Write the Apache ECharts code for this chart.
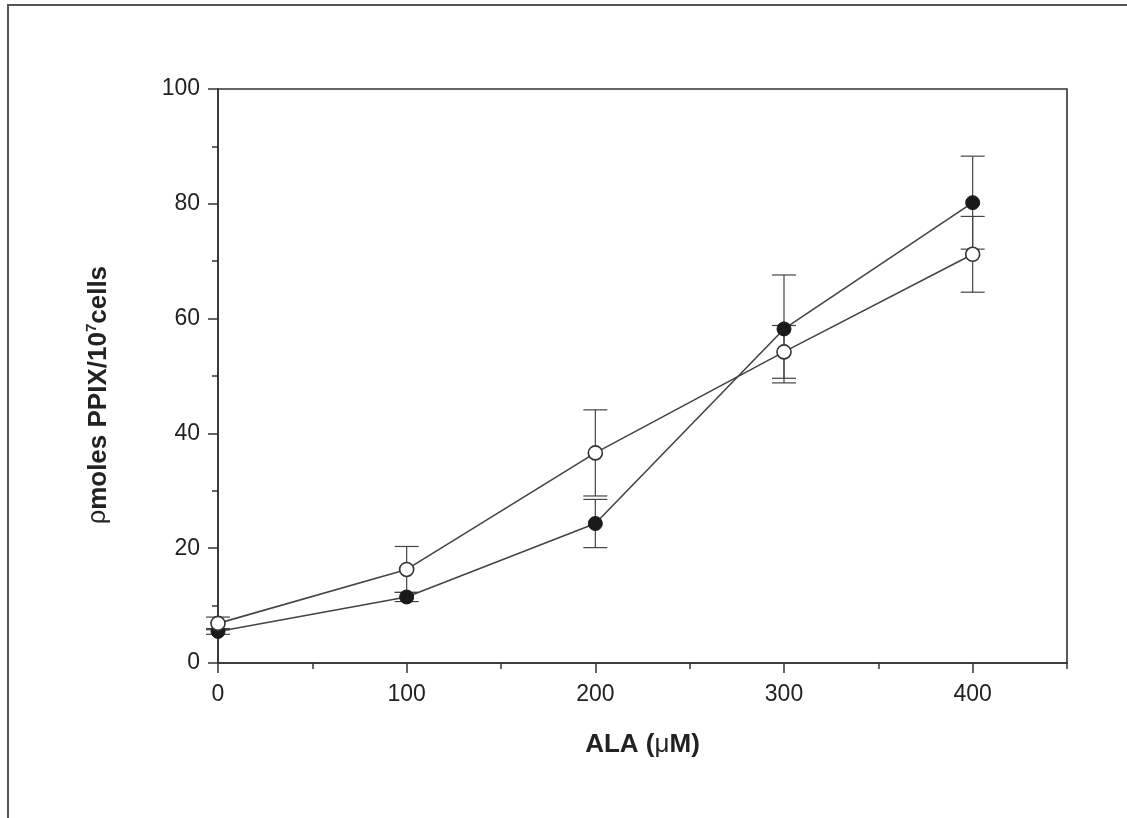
<!DOCTYPE html>
<html lang="en">
<head>
  <meta charset="UTF-8">
  <title>PPIX vs ALA</title>
  <style>
    html, body { margin: 0; padding: 0; background: #fff; }
    #main { width: 1127px; height: 818px; }
  </style>
</head>
<body>
  <div id="main"></div>
</body>
<script src="https://cdn.jsdelivr.net/npm/echarts@6/dist/echarts.min.js"></script>
<script>
  // ALA concentration (uM)
  const ala = [0, 100, 200, 300, 400];

  // filled circles
  const filledMean = [5.5, 11.5, 24.3, 58.2, 80.2];
  const filledErr = [0.5, 0.8, 4.2, 9.4, 8.1];

  // open circles
  const openMean = [6.9, 16.3, 36.6, 54.2, 71.2];
  const openErr = [1.1, 4.0, 7.5, 4.6, 6.6];

  const xMajor = [0, 100, 200, 300, 400];
  const xMinor = [50, 150, 250, 350, 450];
  const yMajor = [0, 20, 40, 60, 80, 100];
  const yMinor = [10, 30, 50, 70, 90];

  const ink = '#333';
  const font = 'Liberation Sans, Arial, sans-serif';

  function pairs(xs, ys) {
    return xs.map((x, i) => [x, ys[i]]);
  }
  function bars(xs, ys, es) {
    return xs.map((x, i) => [x, ys[i] - es[i], ys[i] + es[i]]);
  }

  function renderErr(params, api) {
    const lo = api.coord([api.value(0), api.value(1)]);
    const hi = api.coord([api.value(0), api.value(2)]);
    const w = 12;
    const st = { stroke: '#444', lineWidth: 1.2 };
    return {
      type: 'group',
      children: [
        { type: 'line', shape: { x1: lo[0], y1: lo[1], x2: hi[0], y2: hi[1] }, style: st },
        { type: 'line', shape: { x1: lo[0] - w, y1: lo[1], x2: lo[0] + w, y2: lo[1] }, style: st },
        { type: 'line', shape: { x1: hi[0] - w, y1: hi[1], x2: hi[0] + w, y2: hi[1] }, style: st }
      ]
    };
  }

  const myChart = echarts.init(document.getElementById('main'));

  const axisLine = { show: true, onZero: false, lineStyle: { color: ink, width: 1.6 } };

  myChart.setOption({
    backgroundColor: '#fff',
    animation: false,
    textStyle: { fontFamily: font },
    graphic: [
      { type: 'polyline', shape: { points: [[8, 818], [8, 5], [1127, 5]] },
        style: { stroke: '#555', lineWidth: 2, fill: null } }
    ],
    grid: {
      left: 218, top: 89, right: 60, bottom: 155,
      show: true, borderColor: ink, borderWidth: 1.6
    },
    xAxis: [{
      type: 'value', min: 0, max: 450, position: 'bottom',
      axisLine: axisLine,
      axisTick: { show: true, length: 10, customValues: xMajor, lineStyle: { color: ink, width: 1.5 } },
      axisLabel: { customValues: xMajor, fontSize: 23, color: '#222', margin: 20 },
      splitLine: { show: false },
      name: 'ALA ({m|μ}M)',
      nameLocation: 'middle',
      nameGap: 69,
      nameTextStyle: {
        fontSize: 26, fontWeight: 'bold', color: '#222',
        rich: { m: { fontSize: 26, fontWeight: 'normal', color: '#222' } }
      }
    }, {
      type: 'value', min: 0, max: 450, position: 'bottom',
      axisLine: { show: false, onZero: false },
      axisTick: { show: true, length: 6, customValues: xMinor, lineStyle: { color: ink, width: 1.5 } },
      axisLabel: { show: false },
      splitLine: { show: false }
    }],
    yAxis: [{
      type: 'value', min: 0, max: 100, position: 'left',
      axisLine: axisLine,
      axisTick: { show: true, length: 10, customValues: yMajor, lineStyle: { color: ink, width: 1.5 } },
      axisLabel: { customValues: yMajor, fontSize: 23, color: '#222', margin: 18 },
      splitLine: { show: false },
      name: '{g|ρ}moles PPIX/10{s|7}cells',
      nameLocation: 'middle',
      nameGap: 105,
      nameTextStyle: {
        fontSize: 26, fontWeight: 'bold', color: '#222',
        padding: [0, 38, 0, 0],
        rich: {
          g: { fontSize: 25, fontWeight: 'normal', color: '#222' },
          s: { fontSize: 15, fontWeight: 'bold', color: '#222', padding: [0, 0, 14, 0] }
        }
      }
    }, {
      type: 'value', min: 0, max: 100, position: 'left',
      axisLine: { show: false, onZero: false },
      axisTick: { show: true, length: 6, customValues: yMinor, lineStyle: { color: ink, width: 1.5 } },
      axisLabel: { show: false },
      splitLine: { show: false }
    }],
    series: [
      {
        type: 'custom', renderItem: renderErr, z: 1,
        data: bars(ala, filledMean, filledErr)
      },
      {
        type: 'custom', renderItem: renderErr, z: 1,
        data: bars(ala, openMean, openErr)
      },
      {
        name: 'filled', type: 'line', z: 3,
        data: pairs(ala, filledMean),
        symbol: 'circle', symbolSize: 14,
        lineStyle: { color: '#444', width: 1.6 },
        itemStyle: { color: '#1a1a1a', borderColor: '#1a1a1a', borderWidth: 1 }
      },
      {
        name: 'open', type: 'line', z: 4,
        data: pairs(ala, openMean),
        symbol: 'circle', symbolSize: 14,
        lineStyle: { color: '#444', width: 1.6 },
        itemStyle: { color: '#fff', borderColor: '#333', borderWidth: 1.6 }
      }
    ]
  });
</script>
</html>
